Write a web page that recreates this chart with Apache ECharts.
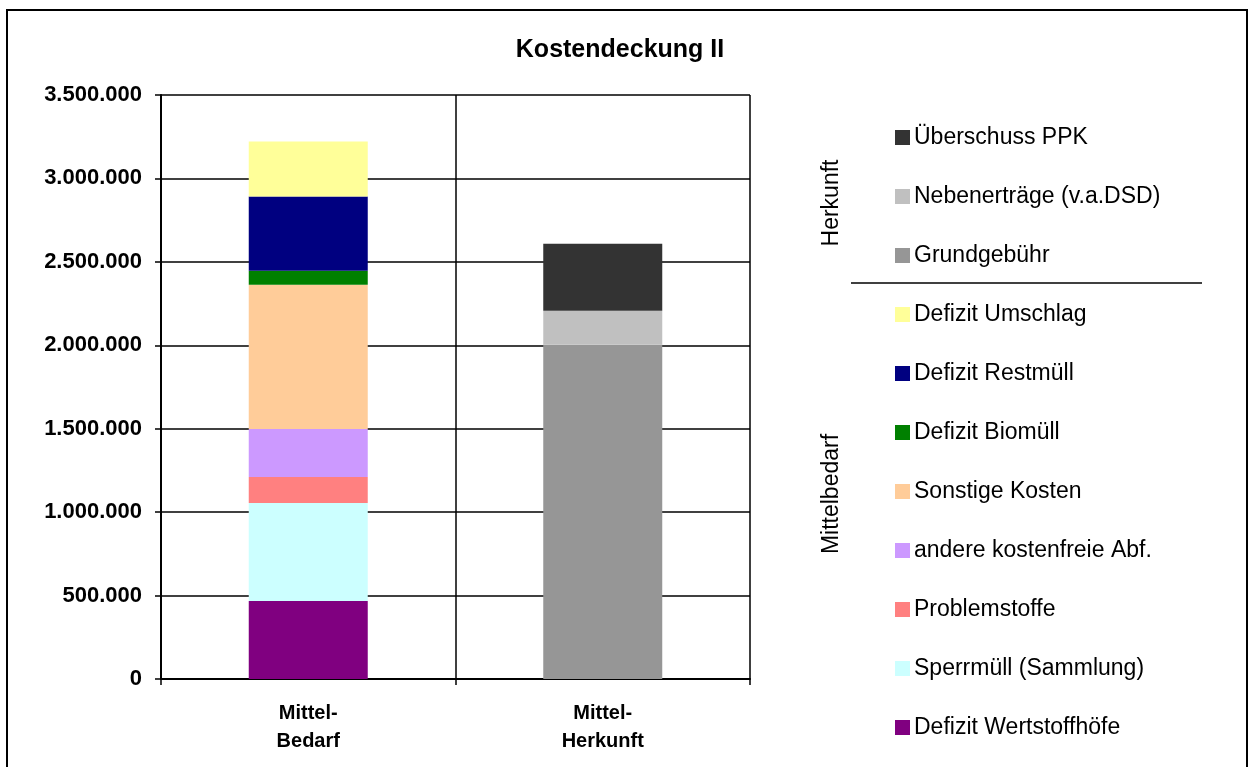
<!DOCTYPE html>
<html>
<head>
<meta charset="utf-8">
<script src="https://cdn.jsdelivr.net/npm/echarts@6/dist/echarts.min.js"></script>
<style>
html,body{margin:0;padding:0;background:#fff;}
#main{width:1252px;height:767px;}
</style>
</head>
<body>
<div id="main"></div>
<script>
// Kategorien und Werte
var categories = ['Mittel-\nBedarf', 'Mittel-\nHerkunft'];
var yTicks = [0, 500000, 1000000, 1500000, 2000000, 2500000, 3000000, 3500000];

// Mittelbedarf (erste Säule), von unten nach oben
var wertstoffhoefe = [468000, null];
var sperrmuell = [587000, null];
var problemstoffe = [156000, null];
var andereAbf = [288000, null];
var sonstigeKosten = [864000, null];
var biomuell = [84000, null];
var restmuell = [444000, null];
var umschlag = [330000, null];

// Herkunft (zweite Säule), von unten nach oben
var grundgebuehr = [null, 2003000];
var nebenertraege = [null, 204000];
var ueberschussPPK = [null, 402000];

var font = 'Liberation Sans, Arial, sans-serif';

var fmt = function(v){
	return String(v).replace(/\B(?=(\d{3})+(?!\d))/g, '.');
};

var mk = function(name, data, color){
	return {
		name: name,
		type: 'bar',
		stack: 'k',
		barWidth: 119,
		data: data,
		itemStyle: {color: color},
		emphasis: {disabled: true}
	};
};

var myChart = echarts.init(document.getElementById('main'));
var option = {
	animation: false,
	backgroundColor: '#fff',
	title: {
		text: 'Kostendeckung II',
		left: 620,
		top: 38,
		padding: 0,
		textAlign: 'center',
		textStyle: {fontFamily: font, fontSize: 25, fontWeight: 'bold', color: '#000'}
	},
	grid: {left: 161, right: 502, top: 95, bottom: 88},
	xAxis: {
		type: 'category',
		data: categories,
		axisLine: {lineStyle: {color: '#000', width: 2}},
		axisTick: {show: true, length: 6, lineStyle: {color: '#000', width: 1.5}},
		splitLine: {show: true, lineStyle: {color: '#000', width: 1.5}},
		axisLabel: {
			margin: 20,
			lineHeight: 28,
			fontFamily: font, fontSize: 20, fontWeight: 'bold', color: '#000'
		}
	},
	yAxis: {
		type: 'value',
		min: yTicks[0],
		max: yTicks[yTicks.length - 1],
		interval: 500000,
		axisLine: {show: true, lineStyle: {color: '#000', width: 2}},
		axisTick: {show: true, length: 6, lineStyle: {color: '#000', width: 1.5}},
		splitLine: {show: true, lineStyle: {color: '#000', width: 1.5}},
		axisLabel: {
			margin: 19,
			formatter: fmt,
			fontFamily: font, fontSize: 22, fontWeight: 'bold', color: '#000'
		}
	},
	legend: {
		orient: 'vertical',
		left: 895,
		top: 126,
		padding: 0,
		itemWidth: 15,
		itemHeight: 15,
		itemGap: 36,
		icon: 'rect',
		selectedMode: false,
		textStyle: {fontFamily: font, fontSize: 23, color: '#000', padding: [0, 0, 0, -1]},
		data: ['Überschuss PPK', 'Nebenerträge (v.a.DSD)', 'Grundgebühr',
			'Defizit Umschlag', 'Defizit Restmüll', 'Defizit Biomüll', 'Sonstige Kosten',
			'andere kostenfreie Abf.', 'Problemstoffe', 'Sperrmüll (Sammlung)', 'Defizit Wertstoffhöfe']
	},
	graphic: [
		{type: 'rect', shape: {x: 7, y: 10, width: 1240, height: 800}, style: {fill: null, stroke: '#000', lineWidth: 2}, silent: true},
		{type: 'line', shape: {x1: 851, y1: 283, x2: 1202, y2: 283}, style: {stroke: '#000', lineWidth: 1.5}, silent: true},
		{type: 'text', x: 832, y: 203, rotation: Math.PI / 2,
			style: {text: 'Herkunft', font: '23px ' + font, fill: '#000', align: 'center', verticalAlign: 'middle'}},
		{type: 'text', x: 832, y: 494, rotation: Math.PI / 2,
			style: {text: 'Mittelbedarf', font: '23px ' + font, fill: '#000', align: 'center', verticalAlign: 'middle'}}
	],
	series: [
		mk('Defizit Wertstoffhöfe', wertstoffhoefe, '#800080'),
		mk('Sperrmüll (Sammlung)', sperrmuell, '#CCFFFF'),
		mk('Problemstoffe', problemstoffe, '#FF8080'),
		mk('andere kostenfreie Abf.', andereAbf, '#CC99FF'),
		mk('Sonstige Kosten', sonstigeKosten, '#FFCC99'),
		mk('Defizit Biomüll', biomuell, '#008000'),
		mk('Defizit Restmüll', restmuell, '#000080'),
		mk('Defizit Umschlag', umschlag, '#FFFF99'),
		mk('Grundgebühr', grundgebuehr, '#969696'),
		mk('Nebenerträge (v.a.DSD)', nebenertraege, '#C0C0C0'),
		mk('Überschuss PPK', ueberschussPPK, '#333333')
	]
};
myChart.setOption(option);
</script>
</body>
</html>
